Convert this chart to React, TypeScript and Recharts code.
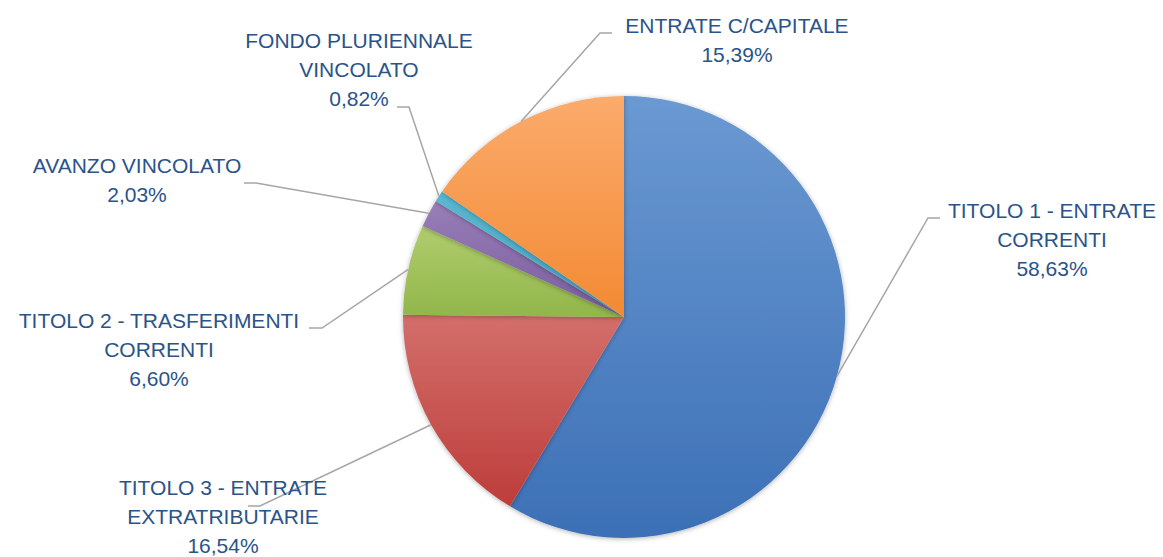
import React from "react";
import { Cell, Pie, PieChart } from "recharts";

const categories = [
  "TITOLO 1 - ENTRATE CORRENTI",
  "TITOLO 3 - ENTRATE EXTRATRIBUTARIE",
  "TITOLO 2 - TRASFERIMENTI CORRENTI",
  "AVANZO VINCOLATO",
  "FONDO PLURIENNALE VINCOLATO",
  "ENTRATE C/CAPITALE"
];

const values = [58.63, 16.54, 6.6, 2.03, 0.82, 15.39];

// how each category label is broken on lines
const labelLines = [
  ["TITOLO 1 - ENTRATE", "CORRENTI"],
  ["TITOLO 3 - ENTRATE", "EXTRATRIBUTARIE"],
  ["TITOLO 2 - TRASFERIMENTI", "CORRENTI"],
  ["AVANZO VINCOLATO"],
  ["FONDO PLURIENNALE", "VINCOLATO"],
  ["ENTRATE C/CAPITALE"]
];

// [top, bottom] of each slice gradient
const gradients = [
  ["#6b99d2", "#3c70b6"],
  ["#d36f6b", "#bd3d3a"],
  ["#b0cd6e", "#91b64a"],
  ["#987fb8", "#7a5c9e"],
  ["#5ab8d2", "#44a6c0"],
  ["#fbab6c", "#f38a33"]
];

// label placement: elbow of the leader line, end of its short horizontal, text centre, first baseline
const labelLayout = [
  { ex: 928, ey: 218, hx: 940, tx: 1052, ty: 218 },
  { ex: 260, ey: 506, hx: 248, tx: 223, ty: 495 },
  { ex: 322, ey: 328, hx: 309, tx: 159, ty: 328 },
  { ex: 256, ey: 183, hx: 244, tx: 137, ty: 173 },
  { ex: 409, ey: 107, hx: 397, tx: 359, ty: 48 },
  { ex: 600, ey: 33, hx: 612, tx: 737, ty: 33 }
];

const data = categories.map((name, i) => ({ name, value: values[i] }));

const RAD = Math.PI / 180;
const textColor = "#2a5389";
const font = "'Liberation Sans', Arial, sans-serif";

function renderLabel(props: any) {
  const { cx, cy, midAngle, outerRadius, index } = props;
  const sx = cx + outerRadius * Math.cos(-midAngle * RAD);
  const sy = cy + outerRadius * Math.sin(-midAngle * RAD);
  const l = labelLayout[index];
  const lines = [...labelLines[index], values[index].toFixed(2).replace(".", ",") + "%"];
  return (
    <g key={"lbl-" + index}>
      <polyline
        points={`${sx},${sy} ${l.ex},${l.ey} ${l.hx},${l.ey}`}
        fill="none"
        stroke="#a6a6a6"
        strokeWidth={1.5}
      />
      <text textAnchor="middle" fontFamily={font} fontSize={21} fill={textColor}>
        {lines.map((line, j) => (
          <tspan key={j} x={l.tx} y={l.ty + j * 29}>
            {line}
          </tspan>
        ))}
      </text>
    </g>
  );
}

export default function App() {
  return (
    <div style={{ position: "absolute", left: 0, top: 0, width: 1163, height: 557, background: "#fff" }}>
      <PieChart width={1163} height={557} margin={{ top: 0, right: 0, bottom: 0, left: 0 }}>
        <defs>
          {gradients.map(([top, bottom], i) => (
            <linearGradient key={i} id={"slice" + i} x1="0" y1="0" x2="0" y2="1">
              <stop offset="0%" stopColor={top} />
              <stop offset="100%" stopColor={bottom} />
            </linearGradient>
          ))}
          <filter id="pieShadow" x="-10%" y="-10%" width="120%" height="120%">
            <feDropShadow dx="0" dy="1" stdDeviation="2.5" floodColor="#000" floodOpacity="0.3" />
          </filter>
        </defs>
        <Pie
          data={data}
          dataKey="value"
          nameKey="name"
          cx={624}
          cy={317}
          outerRadius={221}
          startAngle={90}
          endAngle={-270}
          stroke="none"
          label={renderLabel}
          labelLine={false}
          isAnimationActive={false}
          style={{ filter: "url(#pieShadow)" }}
        >
          {data.map((d, i) => (
            <Cell key={d.name} fill={`url(#slice${i})`} stroke="none" />
          ))}
        </Pie>
      </PieChart>
    </div>
  );
}
